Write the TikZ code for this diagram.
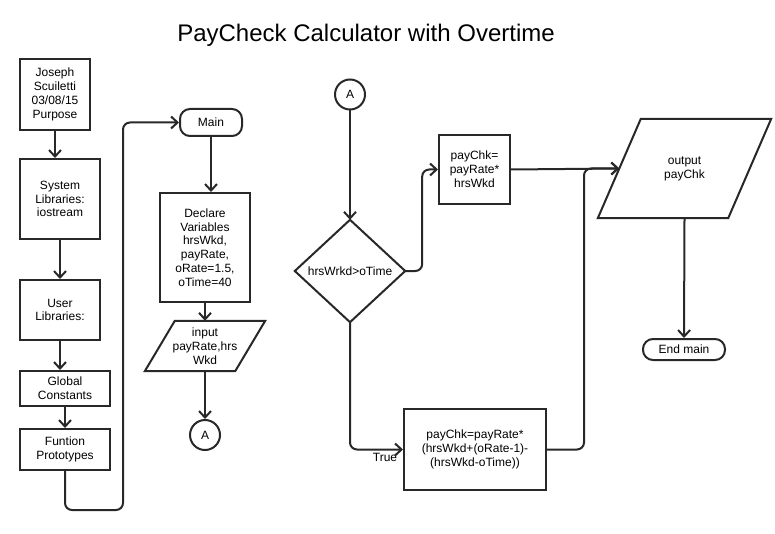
\documentclass[tikz,border=0pt]{standalone}
\usepackage{fontspec}
\setmainfont{Liberation Sans}
\usetikzlibrary{arrows.meta}
\definecolor{ink}{RGB}{40,40,40}
\begin{document}
\begin{tikzpicture}[x=1pt,y=-1pt,
  every node/.style={font=\fontsize{12}{13.8}\selectfont, align=center, inner sep=0pt, text=black},
  box/.style={draw=ink, line width=2pt, rectangle},
  term/.style={draw=ink, line width=2pt, rectangle, rounded corners=10pt},
  conn/.style={draw=ink, line width=2pt, circle, minimum size=30pt},
  ghost/.style={rectangle},
  flow/.style={draw=ink, line width=2pt, -{Straight Barb[length=6.5pt,width=12pt]}, rounded corners=7pt},
  shp/.style={draw=ink, line width=2pt, line join=miter}]
\fill[white] (0,0) rectangle (775,534);
\useasboundingbox (0,0) rectangle (775,534);

\node[font=\fontsize{24}{28}\selectfont, anchor=base] (title) at (366,42) {PayCheck Calculator with Overtime};

% left column
\node[box, minimum width=70pt, minimum height=71pt] (b1) at (55,94.5) {Joseph\\Scuiletti\\03/08/15\\Purpose};
\node[box, minimum width=80pt, minimum height=80pt] (b2) at (60,199) {System\\Libraries:\\iostream};
\node[box, minimum width=80pt, minimum height=60pt] (b3) at (60,310) {User\\Libraries:};
\node[box, minimum width=90pt, minimum height=35pt] (b4) at (65,388.5) {Global\\Constants};
\node[box, minimum width=90pt, minimum height=41pt] (b5) at (65,449.5) {Funtion\\Prototypes};

% main column
\node[term, minimum width=62pt, minimum height=27pt] (main) at (211,122.5) {Main};
\node[box, minimum width=90pt, minimum height=109pt] (decl) at (205,247.5) {Declare\\Variables\\hrsWkd,\\payRate,\\oRate=1.5,\\oTime=40};
\node[ghost, minimum width=90pt, minimum height=50pt] (inp) at (205,346) {input\\payRate,hrs\\Wkd};
\draw[shp] ([xshift=-15pt]inp.south west) -- ([xshift=-15pt]inp.south east) -- ([xshift=15pt]inp.north east) -- ([xshift=15pt]inp.north west) -- cycle;
\node[conn] (A1) at (205,435) {A};

% right part
\node[conn] (A2) at (350,94.5) {A};
\node[ghost, minimum width=110pt, minimum height=102pt] (dia) at (350,271) {hrsWrkd>oTime};
\draw[shp] (dia.north) -- (dia.east) -- (dia.south) -- (dia.west) -- cycle;
\node[box, minimum width=71pt, minimum height=69pt] (p1) at (474.5,169.5) {payChk=\\payRate*\\hrsWkd};
\node[box, minimum width=142pt, minimum height=81pt] (f) at (475,449.5) {payChk=payRate*\\(hrsWkd+(oRate-1)-\\(hrsWkd-oTime))};
\node[ghost, minimum width=130pt, minimum height=99pt] (out) at (684.5,168.5) {output\\payChk};
\draw[shp] ([xshift=-21.5pt]out.south west) -- ([xshift=-21.5pt]out.south east) -- ([xshift=21.5pt]out.north east) -- ([xshift=21.5pt]out.north west) -- cycle;
\node[term, minimum width=82pt, minimum height=21pt] (endm) at (684,349.5) {End main};
\node (true) at (385,457) {True};

% connectors
\draw[flow] (b1.south) -- (b1.south |- b2.north);
\draw[flow] (b2.south) -- (b2.south |- b3.north);
\draw[flow] (b3.south) -- (b3.south |- b4.north);
\draw[flow] (b4.south) -- (b4.south |- b5.north);
\draw[flow] (b5.south) |- (123,510) |- (main.west);
\draw[flow] (main.south) -- (main.south |- decl.north);
\draw[flow] (decl.south) -- (inp.north);
\draw[flow] (inp.south) -- (A1.north);
\draw[flow] (A2.south) -- (dia.north);
\draw[flow] (dia.east) -- ++(17,0) |- (p1.west);
\draw[flow] (dia.south) |- (f.west);
\draw[flow] (p1.east) -- (out.west);
\draw[flow] (f.east) -- ++(37,0) |- (out.west);
\draw[flow] (out.south) -- (endm.north);
\end{tikzpicture}
\end{document}
